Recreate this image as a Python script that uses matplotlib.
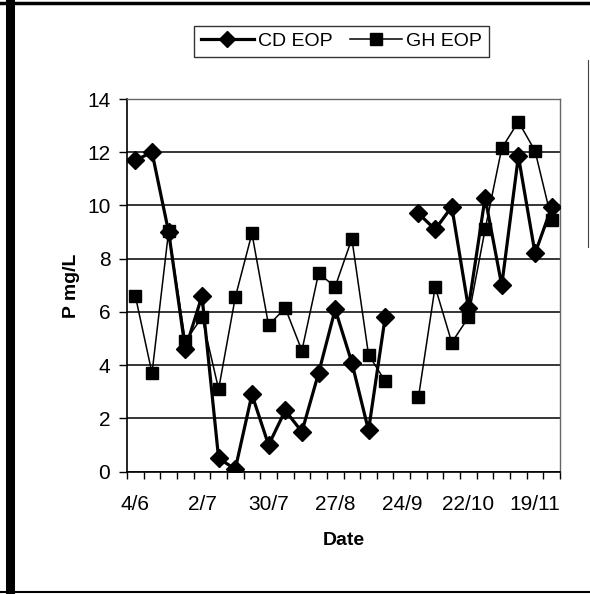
import numpy as np
import matplotlib
matplotlib.use('Agg')
import matplotlib.pyplot as plt
from matplotlib.lines import Line2D

plt.rcParams['font.family'] = ['Liberation Sans', 'DejaVu Sans']

# weekly sampling dates (category axis)
dates = ['4/6', '11/6', '18/6', '25/6', '2/7', '9/7', '16/7', '23/7', '30/7',
         '6/8', '13/8', '20/8', '27/8', '3/9', '10/9', '17/9', '24/9', '1/10',
         '8/10', '15/10', '22/10', '29/10', '5/11', '12/11', '19/11', '26/11']

cd_eop = [11.7, 12.0, 9.0, 4.6, 6.6, 0.5, 0.1, 2.9, 1.0, 2.3, 1.5, 3.7, 6.1,
          4.1, 1.55, 5.8, np.nan, 9.7, 9.1, 9.95, 6.15, 10.3, 7.0, 11.85, 8.2, 9.95]
gh_eop = [6.6, 3.7, 9.05, 4.9, 5.8, 3.1, 6.55, 8.95, 5.5, 6.15, 4.55, 7.45, 6.95,
          8.75, 4.4, 3.4, np.nan, 2.8, 6.95, 4.85, 5.8, 9.1, 12.15, 13.15, 12.05, 9.45]

x = np.arange(len(dates))

fig = plt.figure(figsize=(5.9, 5.94), dpi=100)
ax = fig.add_axes([0.2153, 0.2059, 0.7339, 0.6274])

ax.plot(x, cd_eop, color='black', lw=2.3, marker='D', ms=9, label='CD EOP', zorder=3)
ax.plot(x, gh_eop, color='black', lw=1.1, marker='s', ms=8.5, label='GH EOP', zorder=3)

ax.set_xlim(-0.5, len(dates) - 0.5)
ax.set_ylim(0, 14)
ax.set_yticks(np.arange(0, 15, 2))
ax.yaxis.grid(True, color='black', lw=1.1)
ax.set_axisbelow(True)

# labels every 4th week, ticks between categories
ax.set_xticks(x[::4])
ax.set_xticklabels(dates[::4])
ax.set_xticks(np.arange(-0.5, len(dates)), minor=True)
ax.tick_params(axis='x', which='major', length=0, pad=17, labelsize=15)
ax.tick_params(axis='x', which='minor', length=5, width=1, direction='out')
ax.tick_params(axis='y', length=5.5, width=1, direction='out', labelsize=15, pad=6.5)

for s in ['left', 'bottom']:
    ax.spines[s].set_color('black')
    ax.spines[s].set_linewidth(1.2)
for s in ['top', 'right']:
    ax.spines[s].set_color('#666666')
    ax.spines[s].set_linewidth(1.0)

ax.set_ylabel('P mg/L', fontsize=14, fontweight='bold', labelpad=5)
ax.set_xlabel('Date', fontsize=14, fontweight='bold', labelpad=13)

leg = fig.legend(loc='center', bbox_to_anchor=(341.5 / 590, 1 - 41.5 / 594), ncol=2,
                 fontsize=14, frameon=True, fancybox=False, handlelength=2.7,
                 columnspacing=0.9, handletextpad=0.2, borderpad=0.35,
                 markerscale=0.95)
leg.get_frame().set_edgecolor('black')
leg.get_frame().set_linewidth(1.0)

# outer frame of the scanned figure
W, H = 590, 594
fig.add_artist(Line2D([9.5 / W, 9.5 / W], [0, 1], color='black', lw=6.5))
fig.add_artist(Line2D([0, 1], [1 - 3 / H, 1 - 3 / H], color='black', lw=2.5))
fig.add_artist(Line2D([0, 1], [2 / H, 2 / H], color='black', lw=1.5))
fig.add_artist(Line2D([588 / W, 588 / W], [1 - 60 / H, 1 - 247 / H], color='#444444', lw=0.8))

fig.savefig('out.png', dpi=100)
